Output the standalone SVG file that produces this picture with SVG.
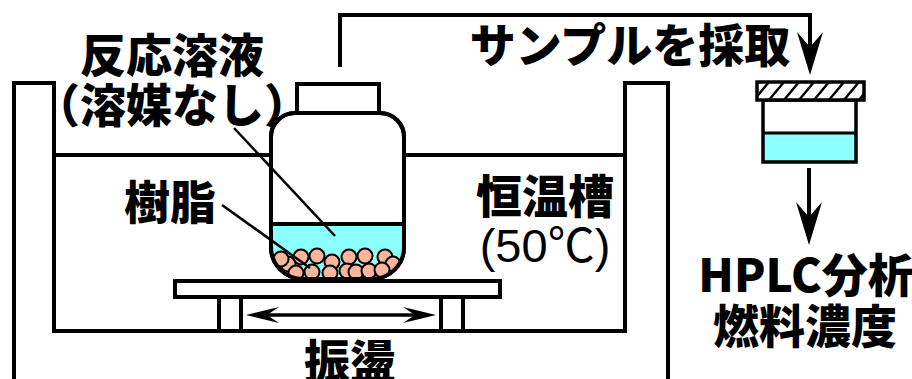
<svg xmlns="http://www.w3.org/2000/svg" width="912" height="379" viewBox="0 0 912 379">
  <style>
    .ln { fill: none; stroke: #000; stroke-width: 4; }
    .box { fill: #fff; stroke: #000; stroke-width: 4; }
    .thin { fill: none; stroke: #000; stroke-width: 2.5; }
    .liq { fill: #8cffff; }
    .bead { fill: #f9b59d; stroke: #000; stroke-width: 2; }
    .jp { font-family: "Noto Sans CJK JP", "Noto Sans CJK SC", sans-serif; font-weight: 900; font-size: 46px; fill: #000; }
    .lat { font-family: "Liberation Sans", "Noto Sans CJK JP", sans-serif; font-size: 47px; fill: #000; }
  </style>
  <defs>
    <marker id="head-lg" markerUnits="userSpaceOnUse" viewBox="-44 -15 46 30" refX="-28" refY="0" markerWidth="46" markerHeight="30" orient="auto">
      <path d="M0,0 L-43,-13 L-28,0 L-43,13 Z" fill="#000"/>
    </marker>
    <marker id="head-sm" markerUnits="userSpaceOnUse" viewBox="-34 -10 36 20" refX="-21" refY="0" markerWidth="36" markerHeight="20" orient="auto-start-reverse">
      <path d="M0,0 L-33,-8 L-21,0 L-33,8 Z" fill="#000"/>
    </marker>
    <clipPath id="jar-inside">
      <path d="M271,137 A24,24 0 0 1 295,113 H380 A24,24 0 0 1 404,137 V247 A32,32 0 0 1 372,279 H303 A32,32 0 0 1 271,247 Z"/>
    </clipPath>
    <pattern id="hatch" patternUnits="userSpaceOnUse" width="15" height="18" x="757" y="82">
      <rect width="15" height="18" fill="#fff"/>
      <path d="M-3,18 L12,0 M12,18 L27,0" stroke="#000" stroke-width="2.5"/>
    </pattern>
  </defs>

  <!-- thermostatic bath -->
  <g id="bath">
    <path class="ln" d="M14,379 V83 H54 V331 H625 V83 H668 V379"/>
    <line class="ln" x1="54" y1="155" x2="625" y2="155"/>
  </g>

  <!-- shaker table -->
  <g id="shaker">
    <rect class="box" x="219" y="297" width="22" height="34"/>
    <rect class="box" x="441" y="297" width="22" height="34"/>
    <rect class="box" x="175" y="281" width="325" height="16"/>
  </g>

  <!-- reaction jar -->
  <g id="jar">
    <rect class="box" x="297" y="84" width="82" height="29"/>
    <path class="box" d="M271,137 A24,24 0 0 1 295,113 H380 A24,24 0 0 1 404,137 V247 A32,32 0 0 1 372,279 H303 A32,32 0 0 1 271,247 Z"/>
    <g clip-path="url(#jar-inside)">
      <rect class="liq" x="268" y="224" width="140" height="60"/>
      <circle class="bead" cx="288" cy="264" r="7.5"/>
      <circle class="bead" cx="281" cy="259" r="7.5"/>
      <circle class="bead" cx="301" cy="257" r="7.5"/>
      <circle class="bead" cx="317" cy="256" r="7.5"/>
      <circle class="bead" cx="332" cy="262" r="7.5"/>
      <circle class="bead" cx="349" cy="257" r="7.5"/>
      <circle class="bead" cx="365" cy="256" r="7.5"/>
      <circle class="bead" cx="385" cy="257" r="7.5"/>
      <circle class="bead" cx="393" cy="264" r="7.5"/>
      <circle class="bead" cx="296" cy="273" r="7.5"/>
      <circle class="bead" cx="312" cy="272" r="7.5"/>
      <circle class="bead" cx="330" cy="273" r="7.5"/>
      <circle class="bead" cx="347" cy="271" r="7.5"/>
      <circle class="bead" cx="356" cy="272" r="7.5"/>
      <circle class="bead" cx="369" cy="271" r="7.5"/>
      <circle class="bead" cx="382" cy="270" r="7.5"/>
    </g>
    <line class="ln" x1="271" y1="224" x2="404" y2="224"/>
    <path class="ln" d="M271,137 A24,24 0 0 1 295,113 H380 A24,24 0 0 1 404,137 V247 A32,32 0 0 1 372,279 H303 A32,32 0 0 1 271,247 Z"/>
  </g>

  <!-- sample vial -->
  <g id="vial">
    <rect x="763" y="100" width="93" height="62" fill="#fff"/>
    <rect class="liq" x="763" y="133" width="93" height="29"/>
    <line x1="763" y1="133" x2="856" y2="133" stroke="#000" stroke-width="3"/>
    <rect x="763" y="100" width="93" height="62" fill="none" stroke="#000" stroke-width="3.5"/>
    <rect x="757" y="82" width="107" height="18" fill="url(#hatch)" stroke="#000" stroke-width="3.5"/>
  </g>

  <!-- connectors -->
  <g id="connectors">
    <path class="ln" d="M340,67 V15 H810 V47" marker-end="url(#head-lg)"/>
    <path class="ln" d="M809,168 V217" marker-end="url(#head-lg)"/>
    <line x1="267" y1="315" x2="415" y2="315" stroke="#000" stroke-width="3.5" marker-start="url(#head-sm)" marker-end="url(#head-sm)"/>
    <line class="thin" x1="234" y1="128" x2="335" y2="236"/>
    <line class="thin" x1="222" y1="205" x2="310" y2="268"/>
  </g>

  <!-- labels -->
  <g id="label-solution">
    <text class="jp" x="172" y="72" text-anchor="middle">反応溶液</text>
    <text class="jp" x="172" y="122" text-anchor="middle">（溶媒なし）</text>
  </g>
  <g id="label-resin">
    <text class="jp" x="170" y="219" text-anchor="middle">樹脂</text>
  </g>
  <g id="label-bath">
    <text class="jp" x="545" y="213" text-anchor="middle">恒温槽</text>
    <text class="lat" x="545" y="262" text-anchor="middle">(50℃)</text>
  </g>
  <g id="label-shake">
    <text class="jp" x="350" y="378" text-anchor="middle">振盪</text>
  </g>
  <g id="label-sampling">
    <text class="jp" x="630" y="62" text-anchor="middle">サンプルを採取</text>
  </g>
  <g id="label-hplc">
    <text class="jp" x="806" y="292" text-anchor="middle" font-size="45">HPLC分析</text>
    <text class="jp" x="805" y="343" text-anchor="middle">燃料濃度</text>
  </g>
</svg>
